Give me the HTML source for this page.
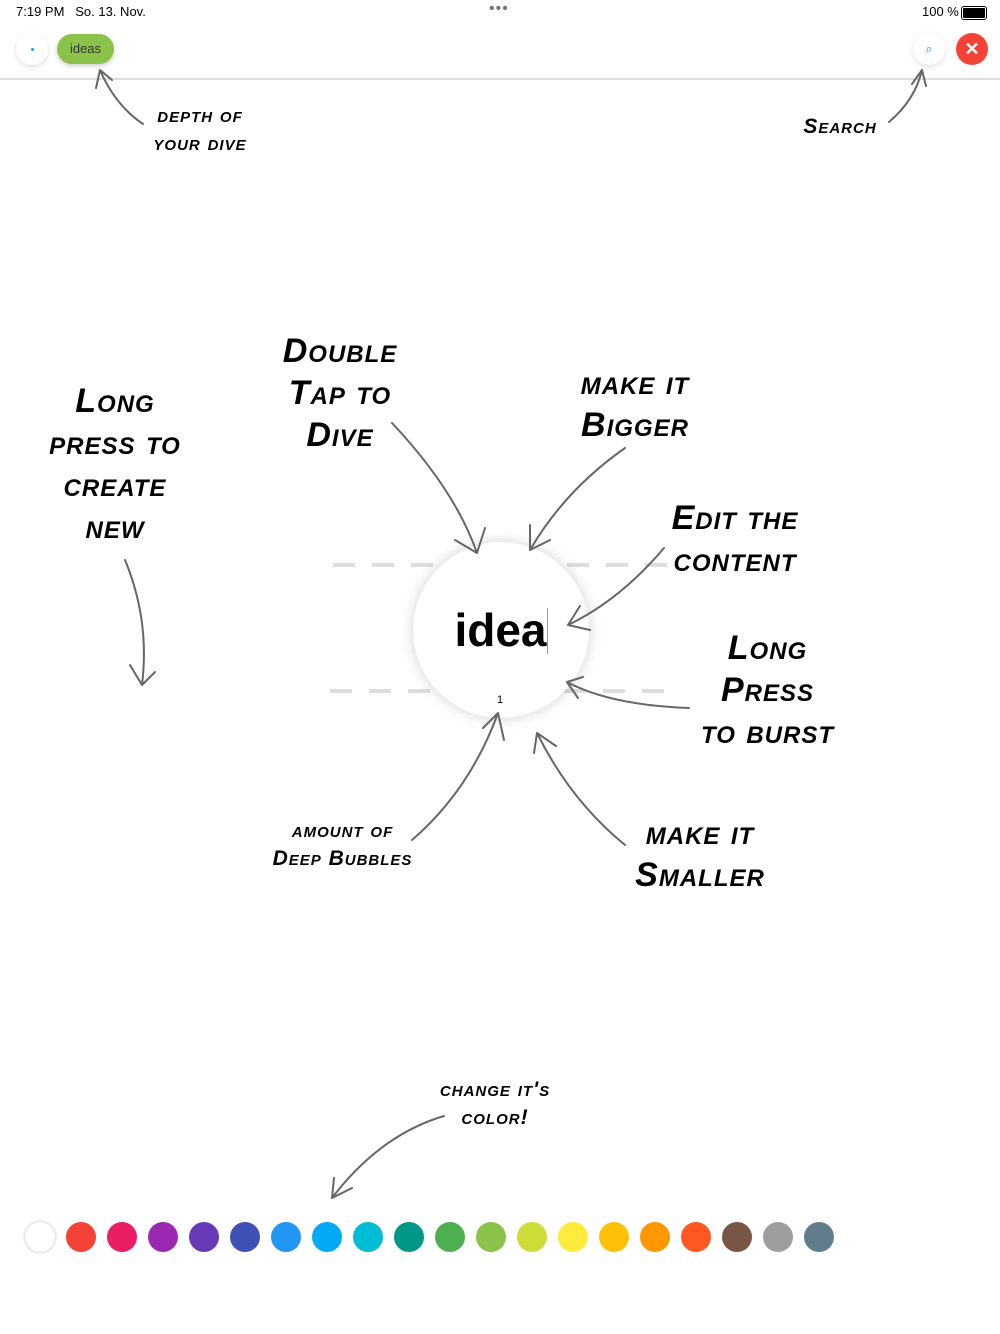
<!DOCTYPE html>
<html><head><meta charset="utf-8"><style>
body{margin:0;width:1000px;height:1334px;background:#fff;position:relative;overflow:hidden;font-family:"Liberation Sans",sans-serif}
.l{position:absolute;font-weight:bold;font-style:italic;text-align:center;color:#000;font-variant:small-caps;letter-spacing:1px}
.b{font-size:34px;line-height:42px}
.s{font-size:21px;line-height:28px}
.c{position:absolute;width:30px;height:30px;border-radius:50%;top:1222px}
</style></head><body>
<div style="position:absolute;left:16px;top:4px;font-size:13px">7:19 PM&nbsp;&nbsp;&nbsp;So. 13. Nov.</div>
<div style="position:absolute;left:489px;top:0px;font-size:16px;color:#777;letter-spacing:1px">•••</div>
<div style="position:absolute;left:922px;top:4px;font-size:13px">100 %</div>
<div style="position:absolute;left:961px;top:6px;width:22px;height:10px;border:1px solid #000;border-radius:3px;padding:1px"><div style="width:100%;height:100%;background:#000;border-radius:1px"></div></div>
<div style="position:absolute;left:16px;top:33px;width:32px;height:32px;border-radius:50%;background:#fff;box-shadow:0 2px 6px rgba(0,0,0,.12)"><div style="position:absolute;left:15px;top:15px;width:3px;height:3px;border-radius:50%;background:#1aa3e8"></div></div>
<div style="position:absolute;left:57px;top:34px;width:57px;height:30px;border-radius:15px;background:#8bc34a;box-shadow:0 2px 5px rgba(0,0,0,.2);font-size:13px;line-height:30px;text-align:center;color:#333">ideas</div>
<div style="position:absolute;left:913px;top:33px;width:32px;height:32px;border-radius:50%;background:#fff;box-shadow:0 2px 6px rgba(0,0,0,.12);color:#1aa3e8;font-size:13px;text-align:center;line-height:32px">⌕</div>
<div style="position:absolute;left:956px;top:33px;width:32px;height:32px;border-radius:50%;background:#f44336;color:#fff;font-size:18px;font-weight:bold;text-align:center;line-height:32px">✕</div>
<div style="position:absolute;left:0;top:78px;width:1000px;height:2px;background:#ddd"></div>
<svg style="position:absolute;left:0;top:0" width="1000" height="1334">
<g stroke="#ddd" stroke-width="4" stroke-dasharray="22,17"><line x1="333" y1="565" x2="668" y2="565"/><line x1="330" y1="691" x2="668" y2="691"/></g>
</svg>
<div style="position:absolute;left:413px;top:542px;width:176px;height:176px;border-radius:50%;background:#fff;box-shadow:0 0 14px rgba(0,0,0,.18)"></div>
<div style="position:absolute;left:413px;top:600px;width:176px;text-align:center;font-size:46px;font-weight:bold;line-height:60px">idea<span style="display:inline-block;width:1px;height:46px;background:#999;vertical-align:-8px"></span></div>
<div style="position:absolute;left:497px;top:694px;font-size:11px">1</div>
<svg style="position:absolute;left:0;top:0" width="1000" height="1334">
<g fill="none" stroke="#666" stroke-width="2" stroke-linecap="round">
<path d="M143 124 Q115 105 100 70 M100 70 L96 88 M100 70 L112 80"/>
<path d="M889 122 Q915 100 922 70 M922 70 L912 84 M922 70 L926 86"/>
<path d="M392 423 Q455 490 477 553 M477 553 L455 540 M477 553 L485 528"/>
<path d="M625 448 Q565 490 530 550 M530 550 L530 525 M530 550 L550 540"/>
<path d="M664 548 Q620 600 568 625 M568 625 L580 606 M568 625 L590 630"/>
<path d="M689 708 Q610 705 567 682 M567 682 L583 677 M567 682 L578 698"/>
<path d="M625 845 Q570 800 537 733 M537 733 L534 753 M537 733 L556 746"/>
<path d="M412 840 Q470 790 498 713 M498 713 L483 728 M498 713 L504 740"/>
<path d="M125 560 Q150 620 142 685 M142 685 L130 665 M142 685 L155 672"/>
<path d="M444 1116 Q380 1135 332 1198 M332 1198 L334 1178 M332 1198 L352 1188"/>
</g></svg>
<div class="l s" style="left:135px;top:102px;width:130px">depth of<br>your dive</div>
<div class="l s" style="left:795px;top:113px;width:90px">Search</div>
<div class="l b" style="left:245px;top:330px;width:190px">Double<br>Tap to<br>Dive</div>
<div class="l b" style="left:535px;top:362px;width:200px">make it<br>Bigger</div>
<div class="l b" style="left:15px;top:380px;width:200px">Long<br>press to<br>create<br>new</div>
<div class="l b" style="left:645px;top:497px;width:180px">Edit the<br>content</div>
<div class="l b" style="left:675px;top:627px;width:185px">Long<br>Press<br>to burst</div>
<div class="l s" style="left:250px;top:817px;width:185px">amount of<br>Deep Bubbles</div>
<div class="l b" style="left:605px;top:812px;width:190px">make it<br>Smaller</div>
<div class="l s" style="left:410px;top:1076px;width:170px">change it's<br>color!</div>
<div class="c" style="left:25px;background:#fff;box-shadow:0 0 3px rgba(0,0,0,.3)"></div>
<div class="c" style="left:66px;background:#f44336"></div>
<div class="c" style="left:107px;background:#e91e63"></div>
<div class="c" style="left:148px;background:#9c27b0"></div>
<div class="c" style="left:189px;background:#673ab7"></div>
<div class="c" style="left:230px;background:#3f51b5"></div>
<div class="c" style="left:271px;background:#2196f3"></div>
<div class="c" style="left:312px;background:#03a9f4"></div>
<div class="c" style="left:353px;background:#00bcd4"></div>
<div class="c" style="left:394px;background:#009688"></div>
<div class="c" style="left:435px;background:#4caf50"></div>
<div class="c" style="left:476px;background:#8bc34a"></div>
<div class="c" style="left:517px;background:#cddc39"></div>
<div class="c" style="left:558px;background:#ffeb3b"></div>
<div class="c" style="left:599px;background:#ffc107"></div>
<div class="c" style="left:640px;background:#ff9800"></div>
<div class="c" style="left:681px;background:#ff5722"></div>
<div class="c" style="left:722px;background:#795548"></div>
<div class="c" style="left:763px;background:#9e9e9e"></div>
<div class="c" style="left:804px;background:#607d8b"></div>
</body></html>
